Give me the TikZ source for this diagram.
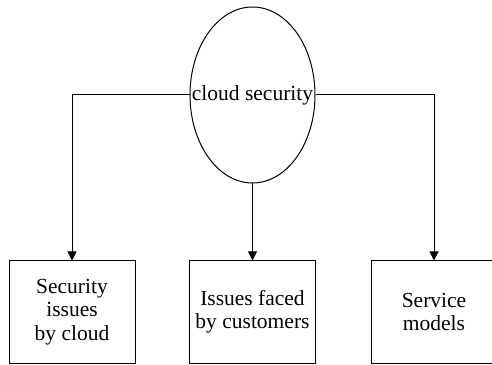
\documentclass[tikz,border=0pt]{standalone}
\usepackage{fontspec}
\setmainfont{Liberation Serif}
\usetikzlibrary{shapes.geometric,arrows.meta}
\begin{document}
\begin{tikzpicture}[x=1pt,y=1pt,
  conn/.style={line width=1pt,-{Triangle[length=9pt,width=9pt]}},
  txt/.style={font=\fontsize{21.5}{23.5}\selectfont},
  boxnode/.style={draw,line width=1pt,minimum width=126pt,minimum height=102pt,inner sep=0pt,align=center,txt},
  hub/.style={draw,ellipse,line width=1pt,minimum width=125pt,minimum height=176pt,inner sep=0pt}]
\useasboundingbox (0,0) rectangle (492,364);
\node[hub] (cs) at (252.5,269) {};
\node[txt,inner sep=0pt] (cslabel) at (cs.center) {cloud security};
\node[boxnode] (b1) at (72,52) {Security\\issues\\by cloud};
\node[boxnode] (b2) at (252.5,52) {Issues faced\\by customers};
\node[boxnode] (b3) at (434,52) {Service\\models};
\draw[conn] (cs.west) -| (b1.north);
\draw[conn] (cs.south) -- (b2.north);
\draw[conn] (cs.east) -| (b3.north);
\end{tikzpicture}
\end{document}
